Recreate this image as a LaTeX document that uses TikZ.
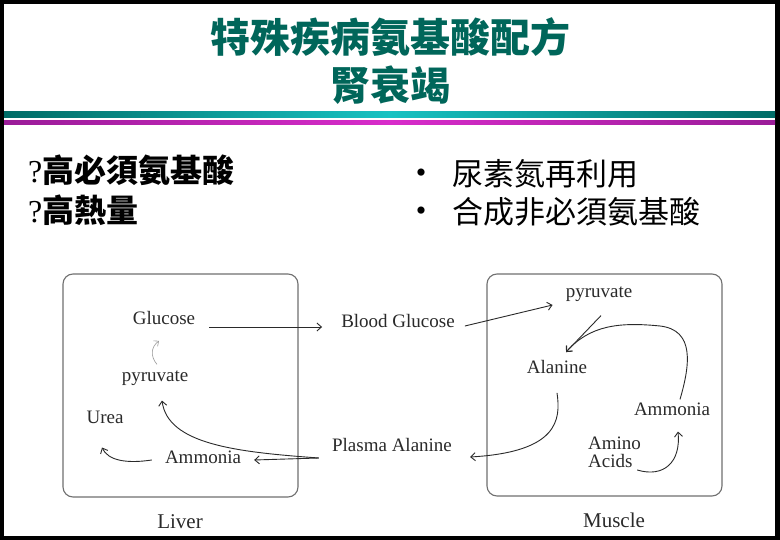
\documentclass[tikz,border=0pt]{standalone}
\usepackage{fontspec}
\setmainfont{Liberation Serif}
\newfontfamily\cjk{Noto Sans CJK TC}
\usepackage{tikz}
\usetikzlibrary{arrows.meta}
\definecolor{titleteal}{HTML}{00665A}
\definecolor{bandteal}{HTML}{006C66}
\definecolor{bandcyan}{HTML}{18C2C2}
\definecolor{bandmag}{HTML}{9A1C98}
\definecolor{bandpink}{HTML}{D82CCA}
\definecolor{ink}{HTML}{2A2A2A}
\definecolor{frame}{HTML}{707070}
\tikzset{
  organ/.style={draw=frame, line width=1.1pt, rounded corners=10pt},
  lab/.style={text=ink, inner sep=0pt, font=\fontsize{19}{18}\selectfont},
  organlab/.style={text=ink, inner sep=0pt, font=\fontsize{21}{21}\selectfont},
  flow/.style={draw=ink, line width=0.9pt, -{Straight Barb[length=4.5pt,width=8pt]}},
  faint/.style={draw=gray!80, line width=0.6pt, -{Straight Barb[length=4pt,width=7pt]}},
  head/.style={text=titleteal, inner sep=0pt, font={\cjk\bfseries\fontsize{40}{48}\selectfont}},
  need/.style={text=black, inner sep=0pt, anchor=west, font={\cjk\bfseries\fontsize{32}{36}\selectfont}},
  gain/.style={text=black, inner sep=0pt, anchor=west, font={\cjk\fontsize{31}{36}\selectfont}},
  bul/.style={text=black, inner sep=0pt, font=\fontsize{30}{30}\selectfont},
}

\begin{document}
\begin{tikzpicture}[x=1pt, y=-1pt]
  % slide frame
  \fill[black] (0,0) rectangle (780,540);
  \fill[white] (4,4) rectangle (775,536);

  % title
  \node[head] (ttl) at (390,37) {特殊疾病氨基酸配方};
  \node[head] (ttl2) at (390,85) {腎衰竭};
  \shade[left color=bandteal, right color=bandteal, middle color=bandcyan] (4,112) rectangle (775,118);
  \shade[left color=bandmag, right color=bandmag, middle color=bandpink] (4,121) rectangle (775,125);

  % left and right points
  \node[need] (need1) at (28,170) {{\rmfamily\mdseries ?}高必須氨基酸};
  \node[need] (need2) at (28,210) {{\rmfamily\mdseries ?}高熱量};
  \node[bul] (dot1) at (421,176) {•};
  \node[bul] (dot2) at (421,214) {•};
  \node[gain] (gain1) at (452,174) {尿素氮再利用};
  \node[gain] (gain2) at (452,212) {合成非必須氨基酸};

  % organ boxes
  \draw[organ] (63,274) rectangle (298,497);
  \draw[organ] (487,274) rectangle (722,496);
  \node[organlab] (liver) at (180,522) {Liver};
  \node[organlab] (muscle) at (614,520) {Muscle};

  % liver
  \node[lab] (glu) at (164,318) {Glucose};
  \node[lab] (lpyr) at (155,378) {pyruvate};
  \node[lab] (urea) at (105,417) {Urea};
  \node[lab] (lamm) at (203,457) {Ammonia};

  % blood
  \node[lab] (bglu) at (398,321) {Blood Glucose};
  \node[lab] (palan) at (392,445) {Plasma Alanine};

  % muscle
  \node[lab] (mpyr) at (599,294) {pyruvate};
  \node[lab] (alan) at (557,367) {Alanine};
  \node[lab] (mamm) at (672,409) {Ammonia};
  \node[lab, anchor=west, align=left] (amino) at (588,452) {Amino\\Acids};

  % cycle
  \draw[flow] ([shift={(14,9)}]glu.east) -- ([shift={(-19,6)}]bglu.west);
  \draw[flow] ([shift={(10,5)}]bglu.east) -- ([shift={(-13,11)}]mpyr.west);
  \draw[flow] ([shift={(2,14)}]mpyr.south) -- ([shift={(9,-8)}]alan.north);
  \draw[flow] ([shift={(8,-3)}]mamm.north) .. controls (690,365) and (695,330) .. (660,326)
    .. controls (620,322) and (590,325) .. ([shift={(9,-8)}]alan.north);
  \draw[flow] ([shift={(-4,18)}]amino.east) .. controls (664,478) and (681,462) .. ([shift={(6,16)}]mamm.south);
  \draw[flow] ([shift={(0,19)}]alan.south) .. controls (561,420) and (558,452) .. ([shift={(18,12)}]palan.east);
  \draw[flow] ([shift={(-13,13)}]palan.west) -- ([shift={(13,3)}]lamm.east);
  \draw[flow] ([shift={(-13,13)}]palan.west) .. controls (235,452) and (168,444) .. ([shift={(7,15)}]lpyr.south);
  \draw[faint] ([shift={(2,-6)}]lpyr.north) .. controls (150,356) and (151,347) .. ([shift={(-5,16)}]glu.south);
  \draw[flow] ([shift={(-13,3)}]lamm.west) .. controls (125,464) and (108,460) .. ([shift={(-3,24)}]urea.south);
\end{tikzpicture}
\end{document}
